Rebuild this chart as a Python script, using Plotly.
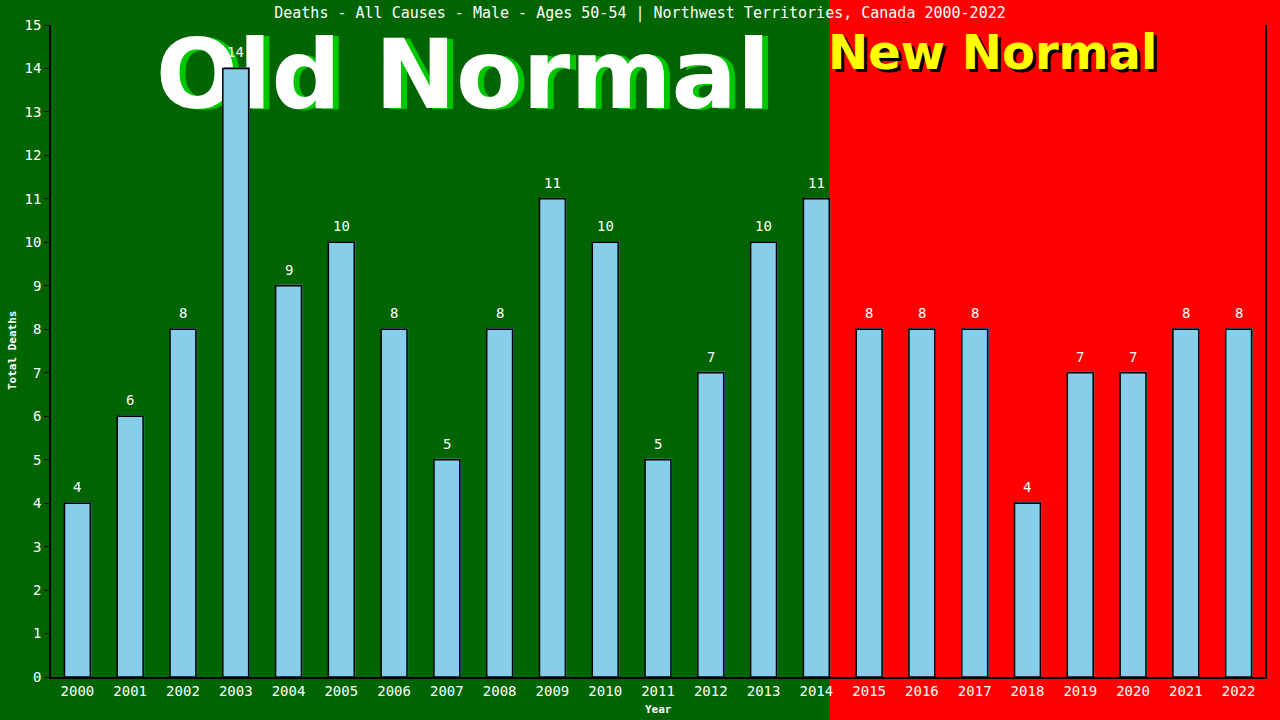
import plotly.graph_objects as go

years = [str(y) for y in range(2000, 2023)]
deaths = [4, 6, 8, 14, 9, 10, 8, 5, 8, 11, 10, 5, 7, 10, 11, 8, 8, 8, 4, 7, 7, 8, 8]
y_ticks = list(range(0, 16))
title_text = "Deaths - All Causes - Male - Ages 50-54 | Northwest Territories, Canada 2000-2022"
split_after = "2014"

idx = list(range(len(years)))
n = len(years)
GREEN = "#006400"
RED = "#FF0000"
BAR = "#87CEEB"
MONO = "DejaVu Sans Mono"

W, H = 1280, 720
ML, MR, MT, MB = 51, 15, 25, 43
pw = W - ML - MR
ph = H - MT - MB
px_x = n / pw           # data units per px (x)
px_y = 15 / ph          # data units per px (y)

fig = go.Figure()

# "Old Normal" text on the base axes (drawn beneath the bars)
on_x = -0.5 + (463 - ML) * px_x
on_y = 15 - (84 - MT) * px_y
fig.add_trace(go.Scatter(x=[on_x + 6 * px_x], y=[on_y - 1 * px_y], mode="text", text=["Old Normal"],
                         textfont=dict(family="DejaVu Sans", size=97, color="#00C800", weight="bold"),
                         hoverinfo="skip", showlegend=False, xaxis="x", yaxis="y"))
fig.add_trace(go.Scatter(x=[on_x], y=[on_y], mode="text", text=["Old Normal"],
                         textfont=dict(family="DejaVu Sans", size=97, color="white", weight="bold"),
                         hoverinfo="skip", showlegend=False, xaxis="x", yaxis="y"))

# bars on overlaying axes
bw = 0.49
fig.add_trace(go.Bar(x=idx, y=[v + 1.2 * px_y for v in deaths], width=bw, offset=-bw / 2 + 1.2 * px_x,
                     marker=dict(color="#4682B4", line=dict(width=0)),
                     hoverinfo="skip", showlegend=False, xaxis="x2", yaxis="y2"))
fig.add_trace(go.Bar(x=idx, y=deaths, width=bw, offset=-bw / 2,
                     marker=dict(color=BAR, line=dict(color="black", width=1.5)),
                     showlegend=False, xaxis="x2", yaxis="y2"))

for i, v in zip(idx, deaths):
    fig.add_annotation(x=i, y=v, xref="x2", yref="y2", text=str(v), showarrow=False,
                       xanchor="center", yanchor="bottom", yshift=6,
                       font=dict(family=MONO, size=14, color="white"))

split_frac = (years.index(split_after) + 0.5 + bw / 2) / n
fig.add_shape(type="rect", xref="paper", yref="paper", x0=split_frac, x1=1.1, y0=-0.2, y1=1.1,
              fillcolor=RED, line=dict(width=0), layer="below")

# New Normal
nn_x = (992 - ML) / pw
nn_y = (H - MB - 52) / ph
fig.add_annotation(x=nn_x, y=nn_y, xref="paper", yref="paper", text="New Normal", showarrow=False,
                   xanchor="center", yanchor="middle", xshift=3, yshift=-3,
                   font=dict(family="DejaVu Sans", size=48, color="black", weight="bold"))
fig.add_annotation(x=nn_x, y=nn_y, xref="paper", yref="paper", text="New Normal", showarrow=False,
                   xanchor="center", yanchor="middle",
                   font=dict(family="DejaVu Sans", size=48, color="#FFFF00", weight="bold"))

# axis titles
fig.add_annotation(x=0.5, y=(H - MB - 709) / ph, xref="paper", yref="paper", text="<b>Year</b>",
                   xanchor="center", yanchor="middle",
                   showarrow=False, font=dict(family=MONO, size=11, color="white"))
fig.add_annotation(x=(12 - ML) / pw, y=0.5, xref="paper", yref="paper", text="<b>Total Deaths</b>",
                   xanchor="center", yanchor="middle",
                   textangle=-90, showarrow=False, font=dict(family=MONO, size=11, color="white"))

xr = [-0.5, n - 0.5]
fig.update_layout(
    width=W, height=H,
    margin=dict(l=ML, r=MR, t=MT, b=MB),
    paper_bgcolor=GREEN, plot_bgcolor=GREEN,
    barmode="overlay",
    title=dict(text=title_text, x=0.5, xanchor="center", y=1 - 13 / H, yanchor="middle",
               font=dict(family=MONO, size=15, color="white")),
    xaxis=dict(range=xr, tickvals=idx, ticktext=years, showgrid=False, zeroline=False,
               showline=True, linecolor="black", linewidth=1.5, ticks="",
               tickfont=dict(family=MONO, size=14, color="white")),
    yaxis=dict(range=[0, 15], tickvals=y_ticks, showgrid=False, zeroline=False,
               showline=True, linecolor="black", linewidth=1.5, mirror=True,
               ticks="outside", ticklen=5, tickcolor="black",
               tickfont=dict(family=MONO, size=14, color="white")),
    xaxis2=dict(range=xr, overlaying="x", visible=False),
    yaxis2=dict(range=[0, 15], overlaying="y", visible=False),
)

fig.write_html("out.html", config={"displayModeBar": False},
               post_script="document.body.style.margin='0';document.body.style.padding='0';"
                           "document.documentElement.style.overflow='hidden';")
